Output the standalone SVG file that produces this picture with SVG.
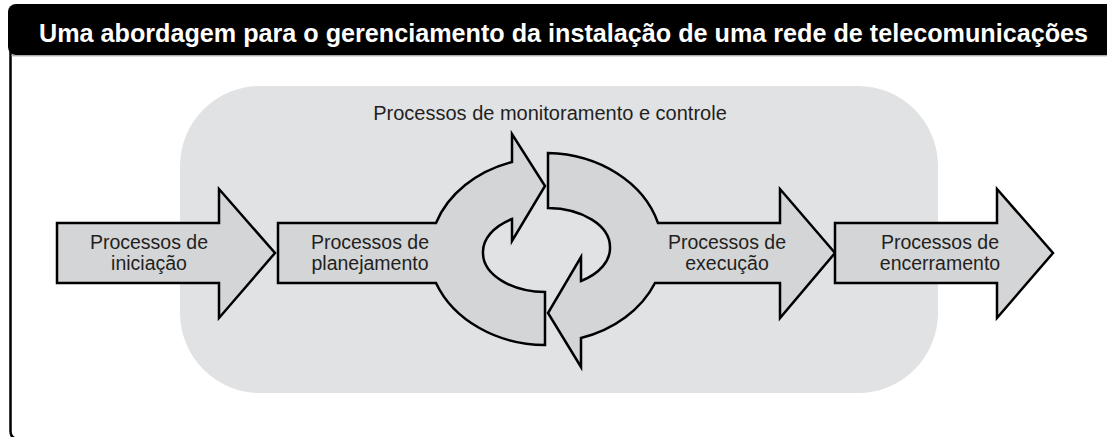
<svg xmlns="http://www.w3.org/2000/svg" width="1107" height="437" viewBox="0 0 1107 437">
  <style>
    .arrow { fill: #d4d5d7; stroke: #000; stroke-width: 2.5; stroke-linejoin: miter; stroke-miterlimit: 10; }
    .lbl { font-family: "Liberation Sans", Arial, sans-serif; font-size: 19.5px; fill: #231f20; text-anchor: middle; }
    .title { font-family: "Liberation Sans", Arial, sans-serif; font-size: 25px; font-weight: bold; fill: #fff; }
  </style>
  <rect width="1107" height="437" fill="#fff"/>
  <!-- frame -->
  <g id="frame">
    <path d="M10.5,50 V431 Q10.5,438.8 18,438.8 H1107" fill="none" stroke="#000" stroke-width="2.5"/>
    <rect x="8" y="4" width="1120" height="51" rx="8" fill="#000"/>
    <line x1="11" y1="55.8" x2="1107" y2="55.8" stroke="#8a8a8a" stroke-width="1"/>
    <text class="title" x="39" y="42" textLength="1049" lengthAdjust="spacingAndGlyphs">Uma abordagem para o gerenciamento da instalação de uma rede de telecomunicações</text>
  </g>
  <!-- monitoring region -->
  <g id="monitoramento">
    <rect x="180" y="86" width="758" height="307" rx="80" ry="80" fill="#e1e2e4"/>
    <text class="lbl" x="550" y="120" style="font-size:20px">Processos de monitoramento e controle</text>
  </g>
  <g id="connectors"></g>
  <g id="iniciacao">
    <path class="arrow" d="M57,223 H219 V189 L275,253 L219,318 V283 H57 Z"/>
    <text class="lbl" x="149" y="249">Processos de</text>
    <text class="lbl" x="149" y="270">iniciação</text>
  </g>
  <g id="planejamento">
    <path class="arrow" d="M278,223 H436 A118,97 0 0 1 512,162 V134 L545,186 L512,241 V219 A63,39 0 0 0 483,253 A63,39 0 0 0 545,292 V345 A118,97 0 0 1 436,283 H278 Z"/>
    <text class="lbl" x="370" y="249">Processos de</text>
    <text class="lbl" x="370" y="270">planejamento</text>
  </g>
  <g id="execucao">
    <path class="arrow" d="M548,153 V208 A63,39 0 0 1 610,247 A63,39 0 0 1 581,281 V257 L548,313 L581,367 V338 A118,97 0 0 0 655,283 H780 V318 L835,253 L780,189 V223 H658 A118,97 0 0 0 548,153 Z"/>
    <text class="lbl" x="727" y="249">Processos de</text>
    <text class="lbl" x="727" y="270">execução</text>
  </g>
  <g id="encerramento">
    <path class="arrow" d="M835,223 H997 V189 L1053,253 L997,318 V283 H835 Z"/>
    <text class="lbl" x="940" y="249">Processos de</text>
    <text class="lbl" x="940" y="270">encerramento</text>
  </g>
</svg>
